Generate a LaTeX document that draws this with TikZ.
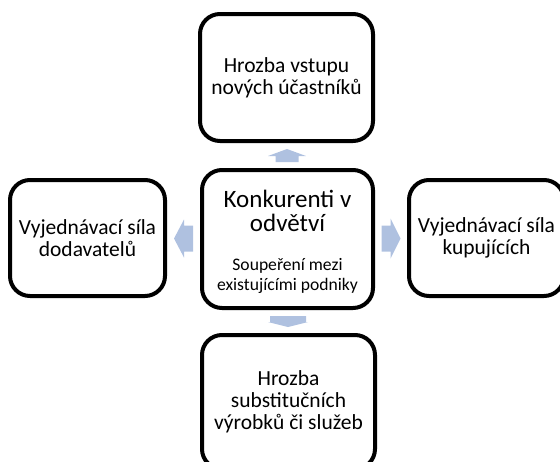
\documentclass[tikz,border=0pt]{standalone}
\usepackage{fontspec}
\setmainfont{Carlito}
\usetikzlibrary{calc}
\definecolor{arrowblue}{RGB}{175,193,224}
\tikzstyle{force}=[draw, rounded corners=20pt, line width=4pt, align=center, inner sep=0pt, font=\fontsize{21.5}{22}\selectfont]
\tikzstyle{force title}=[align=center, inner sep=0pt, font=\fontsize{25}{24}\selectfont]
\tikzstyle{force note}=[align=center, inner sep=0pt, font=\fontsize{17.6}{20}\selectfont]
\tikzstyle{block arrow}=[fill=arrowblue, draw=none]

\begin{document}
\begin{tikzpicture}[x=1pt, y=-1pt]
      \useasboundingbox (0,0) rectangle (560,461);
      \clip (0,0) rectangle (560,461);
      \node[force, minimum width=173pt, minimum height=127pt] (entrants) at (286.5, 77.5) {Hrozba vstupu\\nových účastníků};
      \node[force, minimum width=171pt, minimum height=138pt] (rivals) at (287.5, 239) {};
      \node[force title] (rivalstitle) at ([yshift=28.5pt]rivals.center) {Konkurenti v\\odvětví};
      \node[force note] (rivalsnote) at ([yshift=-36.5pt]rivals.center) {Soupeření mezi\\existujícími podniky};
      \node[force, minimum width=155pt, minimum height=116pt] (suppliers) at (87.5, 238) {Vyjednávací síla\\dodavatelů};
      \node[force, minimum width=155pt, minimum height=116pt] (buyers) at (486.5, 238) {Vyjednávací síla\\kupujících};
      \node[force, minimum width=173pt, minimum height=134pt] (substitutes) at (288.5, 402) {Hrozba\\substitučních\\výrobků či služeb};
      \coordinate (up) at ($(rivals.north)!0.5!(entrants.south)$);
      \coordinate (down) at ($(rivals.south)!0.5!(substitutes.north)$);
      \coordinate (left) at ($(rivals.west)!0.5!(suppliers.east)$);
      \coordinate (right) at ($(rivals.east)!0.5!(buyers.west)$);
      \fill[block arrow, shift={(up)}] (-11.5,6.5) -- (-11.5,0.5) -- (-19,0.5) -- (0,-6.5)
        -- (19,0.5) -- (11.5,0.5) -- (11.5,6.5) -- cycle;
      \fill[block arrow, shift={(down)}] (-18,-5.5) -- (-18,0.5) -- (-20,0.5) -- (0,5.5)
        -- (20,0.5) -- (18,0.5) -- (18,-5.5) -- cycle;
      \fill[block arrow, shift={(left)}] (9.5,-13) -- (0.5,-13) -- (0.5,-19) -- (-9.5,0)
        -- (0.5,19) -- (0.5,13) -- (9.5,13) -- cycle;
      \fill[block arrow, shift={(right)}] (-9.5,-13) -- (-0.5,-13) -- (-0.5,-20) -- (9.5,0)
        -- (-0.5,20) -- (-0.5,13) -- (-9.5,13) -- cycle;
    \end{tikzpicture}
\end{document}
